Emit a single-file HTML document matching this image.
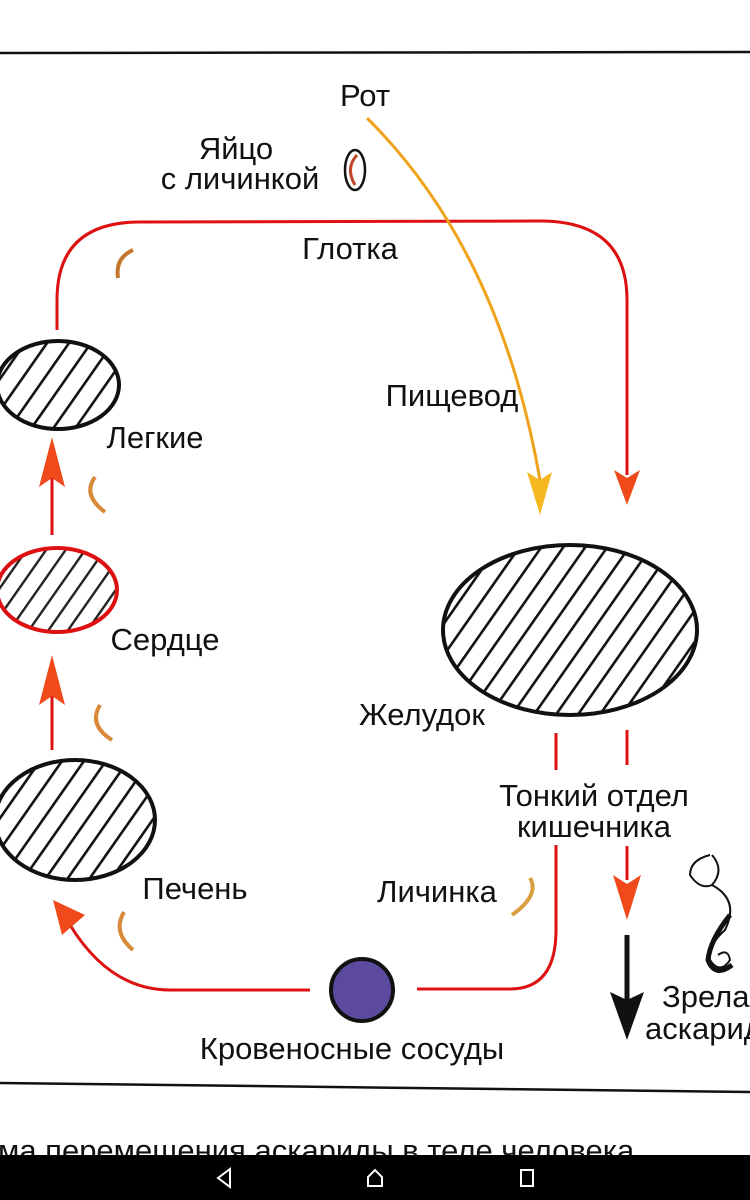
<!DOCTYPE html>
<html><head><meta charset="utf-8"><style>
html,body{margin:0;padding:0;background:#fff;width:750px;height:1200px;overflow:hidden}
text{font-family:"Liberation Sans","DejaVu Sans",sans-serif;fill:#111;font-size:31px}
</style></head><body>
<svg width="750" height="1200" viewBox="0 0 750 1200" xmlns="http://www.w3.org/2000/svg">
<defs>
<pattern id="h" patternUnits="userSpaceOnUse" width="18" height="18" patternTransform="rotate(35)">
<rect width="18" height="18" fill="#fff"/><rect x="0" y="0" width="2.6" height="18" fill="#111"/>
</pattern>
<pattern id="hr" patternUnits="userSpaceOnUse" width="16" height="16" patternTransform="rotate(35)">
<rect width="16" height="16" fill="#fff"/><rect x="0" y="0" width="2.4" height="16" fill="#222"/>
</pattern>
</defs>
<line x1="0" y1="53" x2="750" y2="52" stroke="#111" stroke-width="2.5"/>
<line x1="0" y1="1083" x2="750" y2="1092" stroke="#111" stroke-width="2.5"/>

<path d="M57 330 L57 300 Q57 222 140 222 L540 221 Q627 221 627 300 L627 475" fill="none" stroke="#d11" stroke-width="3"/>
<polygon points="614,470 627,478 640,470 627,505" fill="#f04a1a"/>
<path d="M367 118 Q500 250 540 480" fill="none" stroke="#f0a21a" stroke-width="3"/>
<polygon points="527,472 540,480 552,472 540,515" fill="#f5b820"/>

<ellipse cx="58" cy="385" rx="61" ry="44" fill="url(#h)" stroke="#111" stroke-width="4"/>
<ellipse cx="57" cy="590" rx="60" ry="42" fill="url(#hr)" stroke="#d11" stroke-width="4"/>
<ellipse cx="75" cy="820" rx="80" ry="60" fill="url(#h)" stroke="#111" stroke-width="4"/>
<ellipse cx="570" cy="630" rx="127" ry="85" fill="url(#h)" stroke="#111" stroke-width="4"/>

<line x1="52" y1="535" x2="52" y2="470" stroke="#d11" stroke-width="3"/>
<polygon points="39,487 52,478 65,487 52,437" fill="#f04a1a"/>
<line x1="52" y1="750" x2="52" y2="690" stroke="#d11" stroke-width="3"/>
<polygon points="39,705 52,696 65,705 52,655" fill="#f04a1a"/>

<path d="M310 990 L170 990 Q110 990 70 925" fill="none" stroke="#d11" stroke-width="3"/>
<polygon points="53,900 85,915 62,935" fill="#f04a1a"/>
<path d="M417 989 L510 989 Q556 989 556 930 L556 845" fill="none" stroke="#d11" stroke-width="3"/>
<line x1="556" y1="733" x2="556" y2="770" stroke="#d11" stroke-width="3"/>
<circle cx="362" cy="990" r="31" fill="#5b4a9e" stroke="#111" stroke-width="4"/>

<line x1="627" y1="730" x2="627" y2="765" stroke="#d11" stroke-width="3"/>
<line x1="627" y1="846" x2="627" y2="880" stroke="#d11" stroke-width="3"/>
<polygon points="613,875 627,884 641,875 627,920" fill="#f04a1a"/>
<line x1="627" y1="935" x2="627" y2="1000" stroke="#111" stroke-width="5"/>
<polygon points="610,992 627,1000 644,992 627,1040" fill="#111"/>

<path d="M710 855 Q690 860 690 875 Q700 890 712 885 Q725 870 712 855 M712 885 Q740 900 725 930 Q708 945 710 960 Q720 975 730 960 Q728 948 718 955" fill="none" stroke="#111" stroke-width="2"/>
<path d="M730 915 Q710 940 708 960 Q715 978 732 965" fill="none" stroke="#111" stroke-width="5"/>

<ellipse cx="355" cy="170" rx="10" ry="20" fill="none" stroke="#111" stroke-width="2.5"/>
<path d="M357 155 Q345 168 355 185" fill="none" stroke="#c0442a" stroke-width="3"/>
<path d="M133 250 Q115 258 118 278" fill="none" stroke="#c4772a" stroke-width="4"/>
<path d="M95 477 Q82 495 105 512" fill="none" stroke="#d88a3a" stroke-width="4"/>
<path d="M100 705 Q88 725 112 740" fill="none" stroke="#d88a3a" stroke-width="4"/>
<path d="M124 912 Q112 932 133 950" fill="none" stroke="#d88a3a" stroke-width="4"/>
<path d="M530 878 Q540 895 512 915" fill="none" stroke="#d8a040" stroke-width="4"/>

<text x="365" y="106" text-anchor="middle">Рот</text>
<text x="236" y="159" text-anchor="middle">Яйцо</text>
<text x="240" y="189" text-anchor="middle">с личинкой</text>
<text x="350" y="259" text-anchor="middle">Глотка</text>
<text x="452" y="406" text-anchor="middle">Пищевод</text>
<text x="155" y="448" text-anchor="middle">Легкие</text>
<text x="165" y="650" text-anchor="middle">Сердце</text>
<text x="422" y="725" text-anchor="middle">Желудок</text>
<text x="594" y="806" text-anchor="middle">Тонкий отдел</text>
<text x="594" y="837" text-anchor="middle">кишечника</text>
<text x="437" y="902" text-anchor="middle">Личинка</text>
<text x="195" y="899" text-anchor="middle">Печень</text>
<text x="352" y="1059" text-anchor="middle">Кровеносные сосуды</text>
<text x="662" y="1007">Зрелая</text>
<text x="645" y="1039">аскарида</text>
<text x="-2" y="1161">ма перемещения аскариды в теле человека</text>

<rect x="0" y="1155" width="750" height="45" fill="#000"/>
<polygon points="230,1169 230,1187 218,1178" fill="none" stroke="#fff" stroke-width="2"/>
<path d="M368 1186 L368 1177 L375 1170 L382 1177 L382 1186 Z" fill="none" stroke="#fff" stroke-width="2"/>
<rect x="521" y="1170" width="12" height="16" fill="none" stroke="#fff" stroke-width="2"/>
</svg>
</body></html>
